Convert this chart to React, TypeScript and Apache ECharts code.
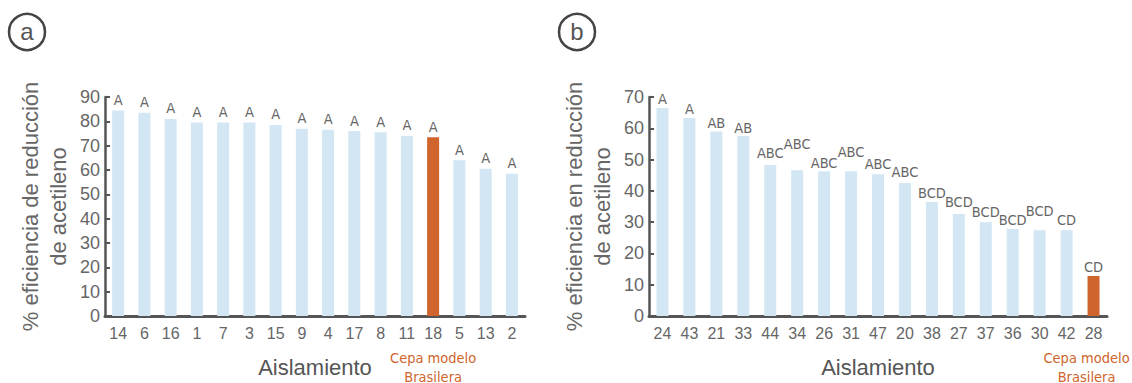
import React, { useEffect, useRef } from "react";
import * as echarts from "echarts";

// Panel a
const catsA = ["14", "6", "16", "1", "7", "3", "15", "9", "4", "17", "8", "11", "18", "5", "13", "2"];
const valsA = [84.5, 83.5, 81, 79.5, 79.5, 79.5, 78.5, 77, 76.5, 76, 75.5, 74, 73.5, 64, 60.5, 58.5];
const lettersA = ["A", "A", "A", "A", "A", "A", "A", "A", "A", "A", "A", "A", "A", "A", "A", "A"];
const modelA = "18";

// Panel b
const catsB = ["24", "43", "21", "33", "44", "34", "26", "31", "47", "20", "38", "27", "37", "36", "30", "42", "28"];
const valsB = [66.5, 63.3, 59, 57.5, 48.3, 46.6, 46.3, 46.3, 45.3, 42.5, 36.4, 32.6, 30, 27.8, 27.4, 27.4, 12.8];
const lettersB = ["A", "A", "AB", "AB", "ABC", "ABC", "ABC", "ABC", "ABC", "ABC", "BCD", "BCD", "BCD", "BCD", "BCD", "CD", "CD"];
const modelB = "28";
// vertical nudges of the letter labels (staggered as in the original)
const labelShiftB = [0, 0, 0, 0, -3, -18, 0, -11, -2, -3, -1, -4, -2, -1, -11, -2, 0];

const BLUE = "#d3e6f4";
const ORANGE = "#cf652c";
const AXIS = "#555555";
const TXT = "#666666";
const NARROW = "'DejaVu Sans Condensed', 'Liberation Sans Narrow', sans-serif";
const SANS = "'Liberation Sans', Arial, sans-serif";

export default function App() {
  const ref = useRef<HTMLDivElement>(null);
  useEffect(() => {
    document.body.style.margin = "0";
    const chart = echarts.init(ref.current!, null, { renderer: "svg" });

    const xAxisFor = (cats: string[], model: string, gridIndex: number, oPad: number[]) => ({
      type: "category",
      gridIndex,
      data: cats,
      name: "Aislamiento",
      nameLocation: "middle",
      nameGap: 40,
      nameMoveOverlap: false,
      nameTextStyle: { fontSize: 22, color: AXIS, fontFamily: SANS },
      axisLine: { lineStyle: { color: AXIS, width: 3 } },
      axisTick: { show: false },
      axisLabel: {
        interval: 0,
        margin: 7,
        formatter: (v: string) =>
          v === model ? `{n|${v}}\n{s| }\n{o|Cepa modelo}\n{o|Brasilera}` : `{n|${v}}`,
        rich: {
          n: { fontSize: 16, lineHeight: 20, color: TXT, fontFamily: SANS },
          s: { fontSize: 5, lineHeight: 5 },
          o: { fontSize: 14.5, lineHeight: 19, color: ORANGE, fontFamily: NARROW, padding: oPad },
        },
      },
    });

    const yAxisFor = (max: number, name: string, gridIndex: number) => ({
      type: "value",
      gridIndex,
      min: 0,
      max,
      interval: 10,
      name,
      nameLocation: "middle",
      nameGap: 33,
      nameMoveOverlap: false,
      nameTextStyle: { fontSize: 22, color: TXT, fontFamily: SANS, lineHeight: 28, align: "center" },
      axisLine: { show: true, lineStyle: { color: AXIS, width: 2.5 } },
      axisTick: { show: true, inside: true, length: 5, lineStyle: { color: AXIS, width: 2 } },
      splitLine: { show: false },
      axisLabel: { fontSize: 18, color: TXT, fontFamily: SANS, margin: 5 },
    });

    const barData = (cats: string[], vals: number[], letters: string[], model: string, shifts: number[] | null) =>
      vals.map((v, i) => ({
        value: v,
        itemStyle: { color: cats[i] === model ? ORANGE : BLUE },
        label: { formatter: letters[i], offset: [0, shifts ? shifts[i] : 0] },
      }));

    chart.setOption({
      animation: false,
      grid: [
        { left: 105, top: 97, width: 420, height: 219, outerBoundsMode: "none", containLabel: false },
        { left: 649, top: 97, width: 458, height: 219, outerBoundsMode: "none", containLabel: false },
      ],
      xAxis: [xAxisFor(catsA, modelA, 0, [0, 0, 0, 0]), xAxisFor(catsB, modelB, 1, [0, 14, 0, 0])],
      yAxis: [
        yAxisFor(90, "% eficiencia de reducción\nde acetileno", 0),
        yAxisFor(70, "% eficiencia en reducción\nde acetileno", 1),
      ],
      series: [
        {
          type: "bar",
          xAxisIndex: 0,
          yAxisIndex: 0,
          barWidth: 12,
          data: barData(catsA, valsA, lettersA, modelA, null),
          label: { show: true, position: "top", distance: 3, fontSize: 14.5, color: TXT, fontFamily: NARROW },
        },
        {
          type: "bar",
          xAxisIndex: 1,
          yAxisIndex: 1,
          barWidth: 12,
          data: barData(catsB, valsB, lettersB, modelB, labelShiftB),
          label: { show: true, position: "top", distance: 1, fontSize: 14.5, color: TXT, fontFamily: NARROW },
        },
      ],
      graphic: [
        { type: "circle", shape: { cx: 27, cy: 32, r: 18 }, style: { fill: "none", stroke: "#444", lineWidth: 2.5 } },
        {
          type: "text",
          x: 27,
          y: 31,
          style: { text: "a", fontSize: 24, fill: "#555", fontFamily: SANS, align: "center", verticalAlign: "middle" },
        },
        { type: "circle", shape: { cx: 577, cy: 32, r: 18 }, style: { fill: "none", stroke: "#444", lineWidth: 2.5 } },
        {
          type: "text",
          x: 577,
          y: 31,
          style: { text: "b", fontSize: 24, fill: "#555", fontFamily: SANS, align: "center", verticalAlign: "middle" },
        },
      ],
    });
    return () => chart.dispose();
  }, []);
  return <div ref={ref} style={{ width: 1132, height: 383 }} />;
}
